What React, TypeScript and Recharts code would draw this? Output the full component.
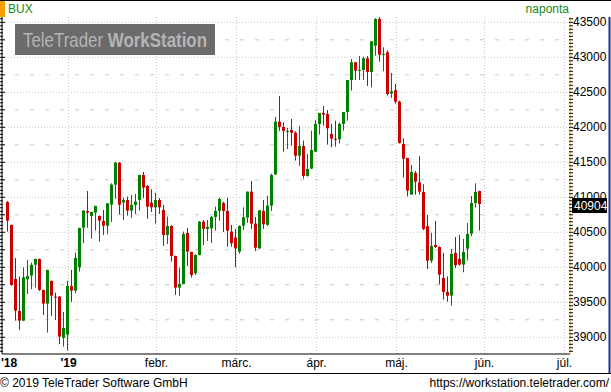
import React from "react";
import {
  ComposedChart,
  Bar,
  XAxis,
  YAxis,
  CartesianGrid,
  ReferenceLine,
} from "recharts";

// trading days, Dec 2018 - May 2019 (BSE)
const dates: string[] = [
  "2018-12-05", "2018-12-06", "2018-12-07", "2018-12-10", "2018-12-11", "2018-12-12", "2018-12-13", "2018-12-14",
  "2018-12-17", "2018-12-18", "2018-12-19", "2018-12-20", "2018-12-21", "2018-12-27", "2018-12-28",
  "2019-01-02", "2019-01-03", "2019-01-04", "2019-01-07", "2019-01-08", "2019-01-09", "2019-01-10", "2019-01-11",
  "2019-01-14", "2019-01-15", "2019-01-16", "2019-01-17", "2019-01-18", "2019-01-21", "2019-01-22", "2019-01-23",
  "2019-01-24", "2019-01-25", "2019-01-28", "2019-01-29", "2019-01-30", "2019-01-31",
  "2019-02-01", "2019-02-04", "2019-02-05", "2019-02-06", "2019-02-07", "2019-02-08", "2019-02-11", "2019-02-12",
  "2019-02-13", "2019-02-14", "2019-02-15", "2019-02-18", "2019-02-19", "2019-02-20", "2019-02-21", "2019-02-22",
  "2019-02-25", "2019-02-26", "2019-02-27", "2019-02-28",
  "2019-03-01", "2019-03-04", "2019-03-05", "2019-03-06", "2019-03-07", "2019-03-08", "2019-03-11", "2019-03-12",
  "2019-03-13", "2019-03-14", "2019-03-18", "2019-03-19", "2019-03-20", "2019-03-21", "2019-03-22", "2019-03-25",
  "2019-03-26", "2019-03-27", "2019-03-28", "2019-03-29",
  "2019-04-01", "2019-04-02", "2019-04-03", "2019-04-04", "2019-04-05", "2019-04-08", "2019-04-09", "2019-04-10",
  "2019-04-11", "2019-04-12", "2019-04-15", "2019-04-16", "2019-04-17", "2019-04-18", "2019-04-23", "2019-04-24",
  "2019-04-25", "2019-04-26", "2019-04-29", "2019-04-30",
  "2019-05-02", "2019-05-03", "2019-05-06", "2019-05-07", "2019-05-08", "2019-05-09", "2019-05-10", "2019-05-13",
  "2019-05-14", "2019-05-15", "2019-05-16", "2019-05-17", "2019-05-20", "2019-05-21", "2019-05-22", "2019-05-23",
  "2019-05-24", "2019-05-27", "2019-05-28", "2019-05-29", "2019-05-30", "2019-05-31",
];

const opens: number[] = [
  40933, 40605, 39833, 39376, 39238, 39829, 39881, 40038, 40119, 39676, 39481, 39805, 39581, 39581, 38990,
  39038, 39733, 39667, 40000, 40567, 40805, 40733, 40781, 40733, 40662, 40595, 40895, 41181, 41495, 40924,
  40962, 40810, 40890, 40962, 41319, 41162, 40924,
  40857, 40962, 40819, 40462, 40590, 40162, 39710, 39762, 40490, 40219, 39914, 40176, 40652, 40548, 40557,
  40719, 40805, 40919, 40805, 40510,
  40424, 40224, 40595, 40710, 41081, 40624, 40271, 40805, 40605, 40881, 41329, 42081, 42005, 41943, 41962,
  41924, 41595, 41733, 41305, 41410,
  41652, 42048, 42205, 42190, 41905, 41838, 41829, 42048, 42219, 42676, 42929, 42810, 42819, 42986, 42790,
  43167, 43548, 43043, 43071, 42481,
  42529, 42367, 41762, 41562, 41038, 41348, 41214, 41076, 40586, 40095, 40319, 40290, 39848, 39648, 39595,
  40205, 40119, 40038, 40267, 40481, 40919, 41090,
];

const highs: number[] = [
  40945, 40610, 40133, 39867, 40000, 40105, 40067, 40125, 40125, 39680, 39965, 39810, 39638, 39590, 39362,
  39805, 39962, 40210, 40565, 40815, 41090, 40795, 40880, 40740, 40819, 40918, 41200, 41505, 41505, 40995,
  41010, 41033, 41048, 41320, 41362, 41176, 41114,
  41067, 40990, 40890, 40724, 40605, 40165, 39995, 40510, 40562, 40222, 40186, 40662, 40676, 40676, 40733,
  40867, 40995, 40938, 40995, 40605,
  40548, 40600, 40857, 41081, 41233, 40719, 40814, 40962, 41024, 41338, 42148, 42448, 42071, 41990, 42119,
  41943, 42019, 41810, 41619, 41952,
  42105, 42205, 42305, 42248, 42048, 42095, 42067, 42220, 42676, 42976, 42935, 43019, 43010, 43019, 43229,
  43560, 43600, 43143, 43100, 42776,
  42619, 42381, 41843, 41565, 41462, 41376, 41586, 41186, 40748, 40490, 40662, 40300, 40205, 39871, 40262,
  40433, 40462, 40405, 40633, 41019, 41200, 41092,
];

const lows: number[] = [
  40510, 39734, 39238, 39105, 39230, 39619, 39686, 39710, 39662, 39319, 39067, 39305, 39248, 38905, 38867,
  38810, 39505, 39629, 39938, 40343, 40567, 40410, 40524, 40367, 40462, 40471, 40648, 40981, 40752, 40676,
  40738, 40705, 40762, 40810, 40986, 40695, 40790,
  40624, 40762, 40305, 40333, 40081, 39605, 39595, 39760, 40019, 39852, 39890, 40170, 40319, 40376, 40348,
  40524, 40667, 40505, 40295, 40295,
  40000, 40195, 40533, 40633, 40548, 40233, 40262, 40548, 40595, 40805, 41319, 41948, 41652, 41690, 41738,
  41524, 41452, 41267, 41295, 41405,
  41650, 41895, 42024, 41752, 41714, 41724, 41771, 41952, 42095, 42524, 42676, 42676, 42676, 42590, 42571,
  43024, 42938, 42800, 42452, 42419,
  42338, 41767, 41281, 41014, 41038, 41038, 41038, 40529, 39976, 40062, 40276, 39752, 39538, 39509, 39452,
  39990, 40024, 39929, 40095, 40443, 40852, 40524,
];

const closes: number[] = [
  40667, 39748, 39381, 39238, 39857, 39876, 40033, 40119, 39676, 39481, 39962, 39595, 39567, 39010, 39133,
  39733, 39667, 40133, 40562, 40810, 40781, 40790, 40876, 40667, 40595, 40914, 41181, 41495, 40895, 40962,
  40810, 40890, 40938, 41319, 41138, 40867, 40857,
  40962, 40857, 40462, 40590, 40162, 39710, 39762, 40476, 40224, 39890, 40176, 40652, 40548, 40576, 40719,
  40805, 40976, 40805, 40524, 40343,
  40271, 40590, 40714, 41081, 40624, 40281, 40814, 40614, 40881, 41319, 42081, 42005, 41948, 41948, 41924,
  41595, 41733, 41305, 41405, 41676,
  42048, 42205, 42181, 41986, 41838, 41824, 42048, 42219, 42676, 42929, 42810, 42819, 42986, 42790, 43229,
  43548, 43038, 43048, 42476, 42514,
  42367, 41776, 41552, 41095, 41362, 41224, 41081, 40548, 40095, 40305, 40290, 39895, 39648, 39595, 40190,
  40029, 40038, 40219, 40476, 40919, 41076, 40904,
];

// x axis: index of first trading day of each month ('18 is off the left edge)
const monthStarts: number[] = [15, 37, 57, 77, 97, 119, 139];
const monthLabels: string[] = ["'19", "febr.", "márc.", "ápr.", "máj.", "jún.", "júl."];
const yearLabel = "'18";
const yMajor: number[] = [39000, 39500, 40000, 40500, 41000, 41500, 42000, 42500, 43000, 43500];
const yMinorGrid: number[] = [39250, 39750, 40250, 40750, 41250, 41750, 42250, 42750, 43250];
const lastValue = 40904;

const GREEN = "#008000";
const RED = "#cc0000";
const X_MIN = -1.375;
const X_MAX = 140.625;
const Y_MIN = 38761;
const Y_MAX = 43576;

// every 50 points gets a small tick on both side axes
const yTickMarks: number[] = [];
for (let v = 38800; v <= 43550; v += 50) yTickMarks.push(v);

const Candle = (props: any) => {
  const { x, y, width, height, payload } = props;
  if (x == null || payload == null) return null;
  const { open, close, high, low } = payload;
  const cx = Math.round(x + width / 2 - 0.5) + 0.5;
  const color = close >= open ? GREEN : RED;
  const pix = (v: number) =>
    high === low ? y : y + ((high - v) / (high - low)) * height;
  const top = pix(Math.max(open, close));
  const bot = pix(Math.min(open, close));
  return (
    <g>
      <line x1={cx} x2={cx} y1={y} y2={y + height} stroke={color} strokeWidth={1} />
      <rect x={cx - 1.5} y={top} width={3} height={Math.max(1, bot - top)} fill={color} />
    </g>
  );
};

const RightTick = (props: any) => {
  const { x, y, payload } = props;
  const v = payload.value;
  const major = v % 500 === 0;
  return (
    <g>
      <line x1={x - 1} x2={x + 3} y1={y} y2={y} stroke="#000" />
      {major && (
        <text x={x + 3} y={y + 4} fontSize={12} fill="#000" fontFamily="'Liberation Sans', Arial, sans-serif">
          {v}
        </text>
      )}
    </g>
  );
};

const LeftTick = (props: any) => {
  const { y, payload } = props;
  const long = payload.value % 250 === 0;
  return <line x1={0} x2={long ? 5 : 3} y1={y} y2={y} stroke="#000" />;
};

const MonthTick = (props: any) => {
  const { x, y, payload } = props;
  const k = monthStarts.indexOf(payload.value - 0.25);
  const label = k >= 0 ? monthLabels[k] : yearLabel;
  const bold = label.startsWith("'");
  if (k < 0) {
    return (
      <text x={1} y={y + 13} fontSize={12} fontWeight="bold" fill="#000" textAnchor="start">
        {label}
      </text>
    );
  }
  return (
    <text x={x} y={y + 13} fontSize={12} fontWeight={bold ? "bold" : "normal"} fill="#000" textAnchor="middle">
      {label}
    </text>
  );
};

const LastLabel = (props: any) => {
  const { viewBox } = props;
  const bx = viewBox.x + viewBox.width + 2;
  return (
    <g>
      <rect x={bx} y={viewBox.y - 6} width={35} height={15} fill="#000" />
      <text x={bx + 2} y={viewBox.y + 6} fontSize={12} fill="#fff">
        {lastValue}
      </text>
    </g>
  );
};

export default function App() {
  const data = dates.map((d, i) => ({
    i,
    date: d,
    open: opens[i],
    high: highs[i],
    low: lows[i],
    close: closes[i],
    range: [lows[i], highs[i]],
  }));
  const xTicks = [X_MIN, ...monthStarts.map((m) => m + 0.25)];

  return (
    <div
      style={{
        position: "absolute",
        left: 0,
        top: 0,
        width: 611,
        height: 392,
        background: "#fff",
        overflow: "hidden",
        fontFamily: "'Liberation Sans', Arial, sans-serif",
      }}
    >
      <ComposedChart width={611} height={392} data={data} margin={{ top: 17, right: 0, bottom: 19, left: 0 }}>
        <CartesianGrid
          yAxisId="r"
          vertical={false}
          horizontalValues={yMajor}
          stroke="#c8c8c8"
          strokeDasharray="1 2"
        />
        <CartesianGrid
          yAxisId="r"
          vertical={false}
          horizontalValues={yMinorGrid}
          stroke="#c8c8c8"
          strokeDasharray="4 11"
          strokeDashoffset={2}
        />
        <CartesianGrid
          yAxisId="r"
          horizontal={false}
          verticalValues={monthStarts.map((m) => m + 0.25)}
          stroke="#c8c8c8"
          strokeDasharray="1 2"
        />
        <XAxis
          type="number"
          dataKey="i"
          domain={[X_MIN, X_MAX]}
          allowDataOverflow
          ticks={xTicks}
          interval={0}
          height={19}
          tickSize={0}
          tickMargin={0}
          tick={<MonthTick />}
          axisLine={{ stroke: "#000" }}
        />
        <YAxis
          yAxisId="l"
          orientation="left"
          width={2}
          domain={[Y_MIN, Y_MAX]}
          allowDataOverflow
          ticks={yTickMarks}
          interval={0}
          tickSize={0}
          tickMargin={0}
          tick={<LeftTick />}
          axisLine={{ stroke: "#000" }}
        />
        <YAxis
          yAxisId="r"
          orientation="right"
          width={41}
          domain={[Y_MIN, Y_MAX]}
          allowDataOverflow
          ticks={yTickMarks}
          interval={0}
          tickSize={0}
          tickMargin={0}
          tick={<RightTick />}
          axisLine={{ stroke: "#e8b830" }}
        />
        <Bar yAxisId="r" dataKey="range" barSize={3} shape={<Candle />} isAnimationActive={false} />
        <ReferenceLine yAxisId="r" y={lastValue} stroke="none" label={<LastLabel />} />
      </ComposedChart>

      {/* frame, header and footer */}
      <svg width={611} height={392} style={{ position: "absolute", left: 0, top: 0, pointerEvents: "none" }}>
        <line x1={0} x2={611} y1={0.5} y2={0.5} stroke="#000" />
        <line x1={0} x2={611} y1={373.5} y2={373.5} stroke="#000" />
        <line x1={609.5} x2={609.5} y1={17} y2={373} stroke="#1c2f8f" strokeWidth={2} />
        <rect x={0} y={1} width={5} height={16} fill="#f5a000" />
        <text x={8} y={13} fontSize={12} fill="#178a17">BUX</text>
        <text x={569} y={13} fontSize={12} fill="#178a17" textAnchor="end">naponta</text>
        <rect x={15} y={24} width={200} height={31} fill="#6b6b6b" />
        <text x={23} y={47} fontSize={21} fill="#b4b4b4" textLength={184} lengthAdjust="spacingAndGlyphs">
          TeleTrader <tspan fontWeight="bold">WorkStation</tspan>
        </text>
        <text x={0} y={387} fontSize={12} fill="#000">© 2019 TeleTrader Software GmbH</text>
        <text x={609} y={387} fontSize={12} fill="#000" textAnchor="end">https://workstation.teletrader.com/</text>
      </svg>
    </div>
  );
}
